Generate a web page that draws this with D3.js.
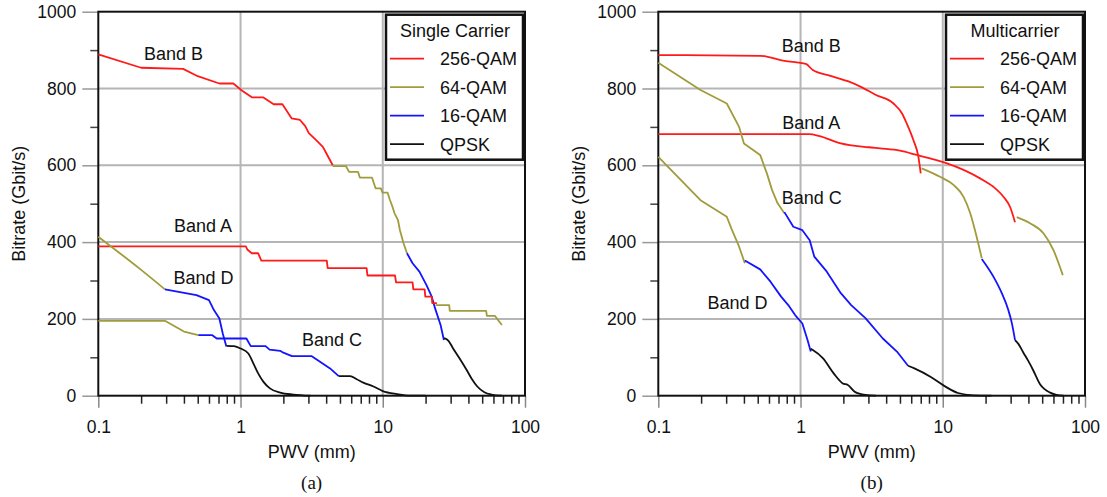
<!DOCTYPE html>
<html>
<head>
<meta charset="utf-8">
<script src="https://cdn.jsdelivr.net/npm/d3@7"></script>
<style>
body { margin: 0; background: #fff; }
svg { display: block; font-family: "Liberation Sans", Arial, sans-serif; }
</style>
</head>
<body>
<script>
// axis ticks and legend labels
var xTicks = [0.1, 1, 10, 100];
var yTicks = [0, 200, 400, 600, 800, 1000];
var yMinor = [100, 300, 500, 700, 900];
var modLabels = ["256-QAM", "64-QAM", "16-QAM", "QPSK"];

// (a) single carrier, [PWV mm, Gbit/s]
var scB_256 = [[0.1,889],[0.2,854],[0.395,851],[0.5,832],[0.71,813],[0.89,813],[1.01,796],[1.2,777],[1.44,777],[1.71,759],[1.97,759],[2.29,722],[2.62,718],[2.85,702],[3.02,684],[3.39,666],[3.79,648],[4.0,632],[4.45,600]];
var scB_64 = [[4.45,598],[5.5,598],[5.8,583],[6.7,583],[6.9,568],[8.4,568],[8.9,540],[9.7,540],[9.96,529],[10.8,529],[11.2,511],[11.7,492],[12.1,475],[12.8,457],[13.2,431],[14.0,397],[14.8,371]];
var scB_16 = [[14.8,371],[16.2,345],[18.1,323],[20.3,288],[22.1,258],[23.3,228],[25.5,184],[26.9,145]];
var scB_qpsk = [[27,150],[29,143],[31,125],[34.7,97],[38.9,67],[42.4,43],[46.2,24],[51.8,9],[58,3],[68.8,0]];
var scA_256 = [[0.1,389],[1.09,389],[1.12,380],[1.2,371],[1.33,371],[1.4,352],[4.04,352],[4.1,332],[7.7,332],[7.8,313],[12.2,313],[12.4,295],[16.2,295],[16.4,277],[19.7,277],[19.9,258],[22.1,258],[22.3,241],[24,241]];
var scA_64 = [[23.5,236],[29.3,236],[29.6,221],[53.3,221],[54,208],[61.4,208],[64.6,197],[68.8,184]];
var scD_64 = [[0.1,414],[0.133,379],[0.198,329],[0.294,277]];
var scD_16 = [[0.294,277],[0.49,262],[0.6,249],[0.65,223],[0.71,201],[0.75,162],[0.795,128]];
var scD_qpsk = [[0.8,130],[0.9,129],[1.0,123],[1.135,110],[1.23,84],[1.33,58],[1.45,36],[1.61,19],[1.9,8],[2.35,3],[3.1,0]];
var scC_64 = [[0.1,195],[0.294,195],[0.4,167],[0.505,158]];
var scC_16 = [[0.505,158],[0.63,158],[0.68,149],[1.1,149],[1.18,129],[1.5,129],[1.6,120],[1.9,117],[2.0,112],[2.3,103],[3.17,103],[3.6,89],[4.26,71],[4.9,51]];
var scC_qpsk = [[4.9,51],[5.9,51],[6.56,43],[7.3,34],[8.6,24],[10,12],[12.6,4],[15.5,0],[20,0]];

// (b) multicarrier
var mcB_256 = [[0.1,887],[0.52,885],[0.77,872],[1.09,864],[1.22,848],[1.62,833],[2.15,819],[2.7,803],[3.39,783],[4.5,761],[5.17,735],[5.58,709],[6.21,666],[6.74,622],[7.0,579]];
var mcB_64 = [[7.1,592],[9.57,570],[11.9,549],[14.0,518],[15.6,475],[17.3,414],[18.8,358]];
var mcB_16 = [[18.8,356],[22.7,310],[26.0,267],[28.9,223],[30.6,189],[32.2,145]];
var mcB_qpsk = [[32.2,145],[34,135],[36.9,112],[40,90],[43.4,65],[46,45],[48.3,30],[52,17],[56.9,8],[63,2],[70.5,0]];
var mcA_256 = [[0.1,681],[1.15,681],[1.36,676],[1.92,657],[3.02,647],[3.62,644],[5.0,638],[6.56,627],[8.14,618],[10.7,605],[14.0,588],[18.3,566],[22.7,544],[26.7,518],[29.7,492],[32.2,452]];
var mcA_64 = [[33.1,465],[41.1,449],[51,423],[60,379],[69.8,314]];
var mcC_64 = [[0.1,867],[0.198,796],[0.303,761],[0.37,700],[0.4,657],[0.52,627],[0.58,579],[0.63,536],[0.69,501],[0.77,475]];
var mcC_16 = [[0.77,478],[0.89,440],[1.03,431],[1.16,405],[1.25,362],[1.53,323],[1.92,267],[2.27,236],[2.86,202],[3.79,149],[4.76,115],[5.7,78]];
var mcC_qpsk = [[5.7,78],[6.32,71],[8.3,48],[10.3,25],[12.8,7],[16.4,1],[22,0]];
var mcD_64 = [[0.1,622],[0.198,509],[0.303,466],[0.33,431],[0.37,388],[0.406,345]];
var mcD_16 = [[0.406,352],[0.52,329],[0.615,297],[0.73,258],[0.82,236],[0.916,210],[1.03,188],[1.12,145],[1.18,115]];
var mcD_qpsk = [[1.18,122],[1.22,119],[1.44,97],[1.71,58],[1.98,32],[2.15,28],[2.41,10],[2.86,2],[3.39,0]];

// band annotations, anchored in data space
var scBands = [["Band B",0.338,874],["Band A",0.545,426],["Band D",0.55,291],["Band C",4.4,129]];
var mcBands = [["Band B",1.19,895],["Band A",1.19,695],["Band C",1.2,499],["Band D",0.36,226]];

function init(){
    var w = 1107, h = 497;
    var colors = ["#ff1a1a", "#a09c3c", "#1414ff", "#111111"];

    var svg = d3.select("body").append("svg")
        .attr("width", w)
        .attr("height", h);

    function panel(left, right, title, tag, series, bands){
        var top = 11.7, bottom = 395.7;
        var x = d3.scaleLog().domain([0.1, 100]).range([left, right]);
        var y = d3.scaleLinear().domain([0, 1000]).range([bottom, top]);
        var g = svg.append("g");

        // grid
        g.selectAll(".hg").data([200, 400, 600, 800]).enter().append("line")
            .attr("x1", left).attr("x2", right)
            .attr("y1", function(d){ return y(d); }).attr("y2", function(d){ return y(d); })
            .attr("stroke", "#b5b5b5").attr("stroke-width", 2);
        g.selectAll(".vg").data([1, 10]).enter().append("line")
            .attr("y1", top).attr("y2", bottom)
            .attr("x1", function(d){ return x(d); }).attr("x2", function(d){ return x(d); })
            .attr("stroke", "#b5b5b5").attr("stroke-width", 2);

        // minor x ticks 2..9 per decade
        var minor = [];
        [0.1, 1, 10].forEach(function(d){ for (var k = 2; k < 10; k++) minor.push(k * d); });
        var xm = g.append("g").attr("transform", "translate(0," + bottom + ")")
            .call(d3.axisBottom(x).tickValues(minor).tickSize(8).tickFormat(""));
        xm.select(".domain").remove();
        xm.selectAll("line").attr("stroke", "#222").attr("stroke-width", 1.5);

        var xa = g.append("g").attr("transform", "translate(0," + bottom + ")")
            .call(d3.axisBottom(x).tickValues(xTicks).tickSize(12).tickPadding(13)
                .tickFormat(function(d){ return d < 1 ? "0.1" : d3.format("d")(d); }));
        xa.select(".domain").remove();
        xa.selectAll("line").attr("stroke", "#888").attr("stroke-width", 1.5);
        xa.selectAll("text").attr("font-size", 17.5).attr("fill", "#111")
            .style("font-family", "Liberation Sans, Arial, sans-serif");

        var ym = g.append("g").attr("transform", "translate(" + left + ",0)")
            .call(d3.axisLeft(y).tickValues(yMinor).tickSize(8).tickFormat(""));
        ym.select(".domain").remove();
        ym.selectAll("line").attr("stroke", "#444").attr("stroke-width", 1.5);

        var ya = g.append("g").attr("transform", "translate(" + left + ",0)")
            .call(d3.axisLeft(y).tickValues(yTicks).tickSize(16).tickPadding(6).tickFormat(d3.format("d")));
        ya.select(".domain").remove();
        ya.selectAll("line").attr("stroke", "#999").attr("stroke-width", 1.5);
        ya.selectAll("text").attr("font-size", 17.5).attr("fill", "#111")
            .style("font-family", "Liberation Sans, Arial, sans-serif");

        // frame
        g.append("rect")
            .attr("x", left).attr("y", top)
            .attr("width", right - left).attr("height", bottom - top)
            .attr("fill", "none").attr("stroke", "#111").attr("stroke-width", 2);

        // curves: stepped ones stay linear, smooth ones get monotone
        var line = d3.line()
            .x(function(d){ return x(d[0]); })
            .y(function(d){ return y(d[1]); });
        var smooth = d3.line()
            .curve(d3.curveMonotoneX)
            .x(function(d){ return x(d[0]); })
            .y(function(d){ return y(d[1]); });
        g.selectAll(".curve").data(series).enter().append("path")
            .attr("d", function(s){ return s.smooth ? smooth(s.pts) : line(s.pts); })
            .attr("fill", "none")
            .attr("stroke", function(s){ return colors[s.mod]; })
            .attr("stroke-width", 1.8)
            .attr("stroke-linejoin", "round");

        // band labels
        g.selectAll(".band").data(bands).enter().append("text")
            .attr("x", function(d){ return x(d[1]); })
            .attr("y", function(d){ return y(d[2]); })
            .attr("text-anchor", "middle")
            .attr("font-size", 18).attr("fill", "#111")
            .text(function(d){ return d[0]; });

        // legend
        var lg = g.append("g");
        lg.append("rect")
            .attr("x", right - 139).attr("y", top + 3)
            .attr("width", 137).attr("height", 145)
            .attr("fill", "#fff").attr("stroke", "#111").attr("stroke-width", 2.5);
        lg.append("text")
            .attr("x", right - 70).attr("y", top + 25)
            .attr("text-anchor", "middle").attr("font-size", 18).attr("fill", "#111")
            .text(title);
        modLabels.forEach(function(lab, i){
            var ly = top + 47 + i * 28.5;
            lg.append("line")
                .attr("x1", right - 135).attr("x2", right - 101)
                .attr("y1", ly).attr("y2", ly)
                .attr("stroke", colors[i]).attr("stroke-width", 1.8);
            lg.append("text")
                .attr("x", right - 85).attr("y", ly + 6.5)
                .attr("font-size", 18).attr("fill", "#111")
                .text(lab);
        });

        // axis titles
        g.append("text")
            .attr("x", (left + right) / 2).attr("y", 458)
            .attr("text-anchor", "middle").attr("font-size", 18).attr("fill", "#111")
            .text("PWV (mm)");
        g.append("text")
            .attr("transform", "translate(" + (left - 73) + "," + ((top + bottom) / 2) + ") rotate(-90)")
            .attr("text-anchor", "middle").attr("font-size", 18).attr("fill", "#111")
            .text("Bitrate (Gbit/s)");
        g.append("text")
            .attr("x", (left + right) / 2).attr("y", 489)
            .attr("text-anchor", "middle").attr("font-size", 19).attr("fill", "#111")
            .style("font-family", "Liberation Serif, Times New Roman, serif")
            .text(tag);
    }

    var scSeries = [
        {mod:0, pts:scB_256}, {mod:1, pts:scB_64}, {mod:2, pts:scB_16}, {mod:3, pts:scB_qpsk, smooth:true},
        {mod:0, pts:scA_256}, {mod:1, pts:scA_64},
        {mod:1, pts:scD_64, smooth:true}, {mod:2, pts:scD_16}, {mod:3, pts:scD_qpsk, smooth:true},
        {mod:1, pts:scC_64}, {mod:2, pts:scC_16}, {mod:3, pts:scC_qpsk, smooth:true}
    ];
    var mcSeries = [
        {mod:0, pts:mcB_256, smooth:true}, {mod:1, pts:mcB_64, smooth:true}, {mod:2, pts:mcB_16, smooth:true}, {mod:3, pts:mcB_qpsk, smooth:true},
        {mod:0, pts:mcA_256, smooth:true}, {mod:1, pts:mcA_64, smooth:true},
        {mod:1, pts:mcC_64}, {mod:2, pts:mcC_16}, {mod:3, pts:mcC_qpsk, smooth:true},
        {mod:1, pts:mcD_64}, {mod:2, pts:mcD_16}, {mod:3, pts:mcD_qpsk, smooth:true}
    ];

    panel(98.3, 525, "Single Carrier", "(a)", scSeries, scBands);
    panel(658.3, 1085, "Multicarrier", "(b)", mcSeries, mcBands);
}

window.onload = init;
</script>
</body>
</html>
